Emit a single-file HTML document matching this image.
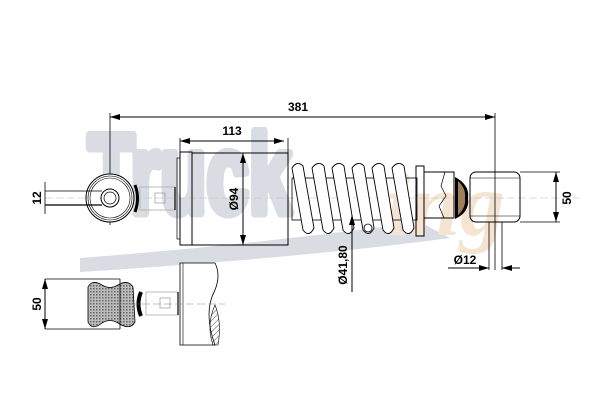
<!DOCTYPE html>
<html><head><style>body{margin:0;background:#fff}svg{display:block}</style></head><body>
<svg width="600" height="400" viewBox="0 0 600 400" xmlns="http://www.w3.org/2000/svg" font-family="Liberation Sans, sans-serif" font-weight="bold">
<defs>
<marker id="a" viewBox="0 0 10 6" refX="10" refY="3" markerWidth="10" markerHeight="6" orient="auto-start-reverse" markerUnits="userSpaceOnUse"><path d="M0,0L10,3L0,6z" fill="#000"/></marker>
<pattern id="h" width="4" height="4" patternUnits="userSpaceOnUse" patternTransform="rotate(45)"><line x1="0" y1="0" x2="0" y2="4" stroke="#555" stroke-width="1"/></pattern>
<pattern id="x" width="3" height="3" patternUnits="userSpaceOnUse"><rect width="3" height="3" fill="#bbb"/><rect width="1.5" height="1.5" fill="#666"/></pattern>
</defs>
<!-- watermark -->
<g fill="#d9dce2" stroke="#d9dce2">
<text transform="translate(88,213) scale(0.68,1)" font-size="112" font-family="Liberation Sans" font-weight="bold" stroke-width="9" stroke-linejoin="round">Truck</text>
<path d="M80,258 Q250,245 420,222 L450,238 Q300,258 80,272z" stroke="none"/>
</g>
<text x="385" y="235" font-size="90" font-style="italic" fill="#f5e4d2" font-family="Liberation Serif">ing</text>
<!-- centerline -->
<line x1="45" y1="198" x2="580" y2="198" stroke="#bbb" stroke-width="0.6" stroke-dasharray="8,3"/>
<!-- 381 -->
<line x1="110" y1="117" x2="495" y2="117" stroke="#000" marker-start="url(#a)" marker-end="url(#a)"/>
<text x="298" y="111" font-size="12" text-anchor="middle">381</text>
<line x1="110" y1="113" x2="110" y2="225" stroke="#000" stroke-width="0.8"/>
<line x1="495" y1="113" x2="495" y2="270" stroke="#000" stroke-width="0.8"/>
<!-- left eye -->
<circle cx="110" cy="198" r="24" fill="#fff" stroke="#000"/>
<circle cx="110" cy="198" r="22" fill="none" stroke="#000" stroke-width="0.6"/>
<circle cx="110" cy="198" r="20" fill="none" stroke="#000" stroke-width="0.6"/>
<circle cx="110" cy="198" r="9" fill="none" stroke="#000"/>
<circle cx="110" cy="198" r="6" fill="none" stroke="#000" stroke-width="0.7"/>
<path d="M135,185 Q140,198 135,212" stroke="#000" stroke-width="3" fill="none"/>
<rect x="140" y="187" width="35" height="23" fill="none" stroke="#aaa" stroke-width="0.8"/>
<rect x="155" y="193" width="10" height="10" fill="none" stroke="#999" stroke-width="0.7"/>
<line x1="175" y1="187" x2="175" y2="210" stroke="#000" stroke-width="1.2"/>
<!-- 12 -->
<line x1="45" y1="182" x2="45" y2="214" stroke="#000" stroke-width="0.8"/>
<line x1="45" y1="191" x2="102" y2="191" stroke="#000" stroke-width="0.8"/>
<line x1="45" y1="205" x2="102" y2="205" stroke="#000" stroke-width="1.2"/>
<text transform="translate(41,198) rotate(-90)" font-size="12" text-anchor="middle">12</text>
<!-- cylinder -->
<rect x="180" y="152" width="12" height="93" fill="none" stroke="#000"/>
<rect x="177" y="158" width="3" height="81" fill="none" stroke="#000" stroke-width="0.7"/>
<path d="M192,153 H288 V245 H192" fill="none" stroke="#000"/>
<line x1="180" y1="141" x2="284" y2="141" stroke="#000" marker-start="url(#a)" marker-end="url(#a)"/>
<line x1="180" y1="138" x2="180" y2="152" stroke="#000" stroke-width="0.8"/>
<line x1="288" y1="138" x2="288" y2="153" stroke="#000" stroke-width="0.8"/>
<text x="232" y="135" font-size="12" text-anchor="middle">113</text>
<line x1="243" y1="153" x2="243" y2="245" stroke="#000" marker-start="url(#a)" marker-end="url(#a)"/>
<text transform="translate(238,199) rotate(-90)" font-size="12" text-anchor="middle">Ø94</text>
<!-- spring inner tube -->
<rect x="292" y="178" width="125" height="42" fill="none" stroke="#000" stroke-width="0.8"/>
<g fill="#fff" stroke="#000" stroke-width="0.9">
<path d="M292,168 Q297,160 303,166 L314,228 Q309,238 303,230z"/>
<path d="M312,168 Q318,160 324,166 L334,228 Q329,238 323,230z"/>
<path d="M332,168 Q338,160 344,166 L354,228 Q349,238 343,230z"/>
<path d="M352,168 Q358,160 364,166 L374,228 Q369,238 363,230z"/>
<path d="M372,168 Q378,160 384,166 L394,228 Q389,238 383,230z"/>
<path d="M392,168 Q398,160 404,166 L414,228 Q409,238 403,230z"/>
</g>
<circle cx="368" cy="228" r="4" fill="#fff" stroke="#000" stroke-width="0.8"/>
<line x1="352" y1="215" x2="352" y2="292" stroke="#000" marker-start="url(#a)"/>
<text transform="translate(347,265) rotate(-90)" font-size="12" text-anchor="middle">Ø41,80</text>
<!-- right end -->
<rect x="416" y="166" width="8" height="70" fill="none" stroke="#000"/>
<rect x="424" y="172" width="30" height="46" fill="none" stroke="#000"/>
<path d="M445,172 L441,186 L446,196 L439,206 L444,218" fill="none" stroke="#000" stroke-width="0.7"/>
<path d="M455,177 Q470,185 468,198 Q470,212 455,219" fill="#000"/>
<path d="M458,181 Q466,188 465,198 Q466,208 458,215" fill="#a0805a"/>
<rect x="470" y="172" width="50" height="50" rx="6" fill="none" stroke="#000"/>
<line x1="470" y1="178" x2="520" y2="178" stroke="#000" stroke-width="0.6"/>
<line x1="470" y1="216" x2="520" y2="216" stroke="#000" stroke-width="0.6"/>
<!-- 50 right -->
<line x1="520" y1="172" x2="560" y2="172" stroke="#000" stroke-width="0.8"/>
<line x1="520" y1="222" x2="560" y2="222" stroke="#000" stroke-width="0.8"/>
<line x1="556" y1="172" x2="556" y2="222" stroke="#000" marker-start="url(#a)" marker-end="url(#a)"/>
<text transform="translate(571,198) rotate(-90)" font-size="12" text-anchor="middle">50</text>
<!-- Ø12 -->
<line x1="489" y1="222" x2="489" y2="270" stroke="#000" stroke-width="0.8"/>
<line x1="502" y1="222" x2="502" y2="270" stroke="#000" stroke-width="0.8"/>
<line x1="448" y1="268" x2="489" y2="268" stroke="#000" marker-end="url(#a)"/>
<line x1="520" y1="268" x2="502" y2="268" stroke="#000" marker-end="url(#a)"/>
<text x="465" y="264" font-size="12" text-anchor="middle">Ø12</text>
<!-- bottom view -->
<line x1="45" y1="279" x2="120" y2="279" stroke="#000" stroke-width="0.8"/>
<line x1="45" y1="329" x2="120" y2="329" stroke="#000" stroke-width="0.8"/>
<line x1="45" y1="279" x2="45" y2="329" stroke="#000" marker-start="url(#a)" marker-end="url(#a)"/>
<text transform="translate(41,304) rotate(-90)" font-size="12" text-anchor="middle">50</text>
<path d="M88,287 Q92,279 102,285 Q110,290 118,285 Q128,279 133,287 L135,322 Q130,331 118,323 Q110,318 102,323 Q92,331 88,322z" fill="url(#x)" stroke="#000" stroke-width="0.8"/>
<line x1="120" y1="279" x2="120" y2="329" stroke="#000" stroke-width="0.8"/>
<path d="M141,292 Q136,304 141,316" stroke="#000" stroke-width="4" fill="none"/>
<rect x="146" y="292" width="32" height="23" fill="#fff" stroke="#aaa" stroke-width="0.8"/>
<rect x="160" y="298" width="10" height="10" fill="none" stroke="#999" stroke-width="0.7"/>
<line x1="178" y1="292" x2="178" y2="315" stroke="#000" stroke-width="1.2"/>
<path d="M180,263 H215 Q221,275 215,290 Q203,312 215,345 H180z" fill="#fff" stroke="#000" stroke-width="0.8"/>
<line x1="183" y1="263" x2="183" y2="345" stroke="#000" stroke-width="0.6"/>
<path d="M215,305 Q206,325 213,345 H218 Q222,322 215,305z" fill="url(#h)" stroke="#000" stroke-width="0.6"/>
<line x1="120" y1="304" x2="225" y2="304" stroke="#888" stroke-width="0.6" stroke-dasharray="8,3"/>
</svg>
</body></html>
